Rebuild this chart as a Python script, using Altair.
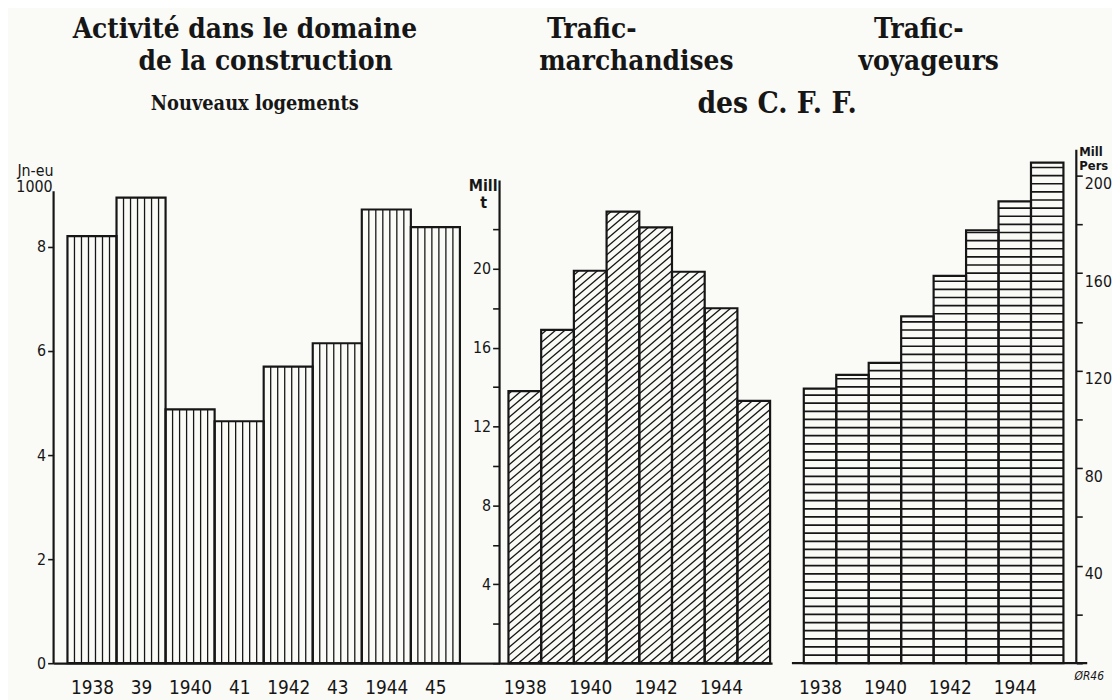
import math
import altair as alt
import pandas as pd

# ---------------- data ----------------
years = [1938, 1939, 1940, 1941, 1942, 1943, 1944, 1945]
housing = [8.21, 8.95, 4.88, 4.65, 5.70, 6.15, 8.72, 8.38]        # new dwellings, thousands
freight = [13.8, 16.9, 19.9, 22.9, 22.1, 19.85, 18.0, 13.3]        # million tonnes
passengers = [112.6, 118.3, 123.2, 142.3, 158.9, 177.6, 189.4, 205.3]  # million persons

labels1 = ["1938", "39", "1940", "41", "1942", "43", "1944", "45"]
labels23 = ["1938", "", "1940", "", "1942", "", "1944", ""]

ticks1 = [0, 2, 4, 6, 8]
ticks2 = [0, 2, 4, 6, 8, 10, 12, 14, 16, 18, 20, 22]
ticks3 = [0, 20, 40, 60, 80, 100, 120, 140, 160, 180, 200]

title1 = ["Activité dans le domaine", "de la construction"]
subtitle1 = "Nouveaux logements"
title2 = ["Trafic-", "marchandises"]
title3 = ["Trafic-", "voyageurs"]
common_title = "des C. F. F."
unit1 = ["Jn-eu", "1000"]
unit2 = ["Mill", "t"]
unit3 = ["Mill", "Pers"]
signature = "ØR46"

# axis-line tops (value where each vertical axis line ends)
axis_top1, axis_top2 = 9.07, 24.47

# ---------------- layout / style ----------------
ink = "#161616"
bg = "#fafaf7"
numfont = "DejaVu Sans Condensed, Liberation Sans Narrow, DejaVu Sans"
serif = "DejaVu Serif Condensed, DejaVu Serif"
H = 518

W1, PX1 = 450, 49.5
W2, PX2 = 275, 33.0
W3, PX3 = 307, 32.75
Y1PX, Y2PX, Y3PX = 52.5, 19.9, 2.46

x1min = 1937.5 - 14 / PX1
x1max = x1min + W1 / PX1
x2min = 1937.5 - 9 / PX2
x2max = x2min + W2 / PX2
x3min = 1937.5 - 32 / PX3
x3max = x3min + W3 / PX3
y1max, y2max, y3max = H / Y1PX, H / Y2PX, H / Y3PX


def bars_df(vals):
    return pd.DataFrame({"x0": [y - 0.5 for y in years], "x1": [y + 0.5 for y in years],
                         "b": [0] * len(years), "v": vals})


def txt(s, x, y, size, font=serif, weight="bold", align="center", style="normal"):
    return alt.Chart(pd.DataFrame({"t": [s]})).mark_text(
        align=align, baseline="middle", font=font, fontSize=size, fontWeight=weight,
        fontStyle=style, color=ink
    ).encode(text="t:N", x=alt.value(x), y=alt.value(y))


def xaxis(labels, domain=True):
    arr = "[" + ",".join("'%s'" % l for l in labels) + "]"
    return alt.Axis(values=years, labelExpr=arr + "[datum.value - 1938]", ticks=False,
                    domain=domain, domainWidth=2.2, domainColor=ink, grid=False, title=None,
                    labelFont=numfont, labelFontSize=19, labelColor=ink, labelPadding=16,
                    labelAngle=0, labelFlush=False, labelOverlap=False)


def yaxis(values, expr, orient="left", tick=6, offset=0):
    return alt.Axis(values=values, labelExpr=expr, orient=orient, domain=False, grid=False,
                    title=None, tickSize=tick, tickWidth=1.6, tickColor=ink,
                    labelFont=numfont, labelFontSize=16, labelColor=ink, labelPadding=2,
                    labelOffset=offset, labelFlush=False, labelOverlap=False)


# ---------------- panel 1 : vertical hatching ----------------
h1 = []
for yr, v in zip(years, housing):
    for k in range(1, 7):
        h1.append({"x": yr - 0.5 + k / 7, "y0": 0, "y1": v})
h1 = pd.DataFrame(h1)

xs1 = alt.Scale(domain=[x1min, x1max], nice=False, zero=False)
ys1 = alt.Scale(domain=[0, y1max], nice=False, zero=False)

p1 = alt.layer(
    alt.Chart(h1).mark_rule(color=ink, strokeWidth=1.3).encode(
        x=alt.X("x:Q", scale=xs1, axis=xaxis(labels1)),
        y=alt.Y("y0:Q", scale=ys1, axis=yaxis(ticks1, "datum.label")),
        y2="y1:Q"),
    alt.Chart(bars_df(housing)).mark_rect(fillOpacity=0, stroke=ink, strokeWidth=2.2).encode(
        x="x0:Q", x2="x1:Q", y="b:Q", y2="v:Q"),
    alt.Chart(pd.DataFrame({"x": [x1min], "y0": [0], "y1": [axis_top1]})).mark_rule(
        color=ink, strokeWidth=2.2).encode(x="x:Q", y="y0:Q", y2="y1:Q"),
    txt(title1[0], 193, -121, 28),
    txt(title1[1], 214, -89, 28),
    txt(subtitle1, 203, -46, 20),
    txt(unit1[0], 0, 21, 16, font=numfont, weight="normal", align="right"),
    txt(unit1[1], -1, 38, 16, font=numfont, weight="normal", align="right"),
).properties(width=W1, height=H)

# ---------------- panel 2 : diagonal hatching ----------------
m, d = 0.85, 8.0
h2 = []
for yr, v in zip(years, freight):
    X0 = (yr - 0.5 - x2min) * PX2
    X1 = X0 + PX2
    Hb = v * Y2PX
    kmin = math.floor((-m * X1) / d)
    kmax = math.ceil((Hb - m * X0) / d)
    for k in range(kmin, kmax + 1):
        c = k * d
        xa = max(X0, -c / m)
        xb = min(X1, (Hb - c) / m)
        if xb - xa > 0.6:
            h2.append({"x": x2min + xa / PX2, "x2": x2min + xb / PX2,
                       "y": (m * xa + c) / Y2PX, "y2": (m * xb + c) / Y2PX})
h2 = pd.DataFrame(h2)

xs2 = alt.Scale(domain=[x2min, x2max], nice=False, zero=False)
ys2 = alt.Scale(domain=[0, y2max], nice=False, zero=False)

p2 = alt.layer(
    alt.Chart(h2).mark_rule(color=ink, strokeWidth=1.3).encode(
        x=alt.X("x:Q", scale=xs2, axis=xaxis(labels23)),
        y=alt.Y("y:Q", scale=ys2,
                axis=yaxis(ticks2, "datum.value % 4 == 0 && datum.value > 0 && datum.value <= 20 ? datum.label : ''", tick=7)),
        x2="x2:Q", y2="y2:Q"),
    alt.Chart(bars_df(freight)).mark_rect(fillOpacity=0, stroke=ink, strokeWidth=2.2).encode(
        x="x0:Q", x2="x1:Q", y="b:Q", y2="v:Q"),
    alt.Chart(pd.DataFrame({"x": [x2min], "y0": [0], "y1": [axis_top2]})).mark_rule(
        color=ink, strokeWidth=2.2).encode(x="x:Q", y="y0:Q", y2="y1:Q"),
    txt(title2[0], 93, -121, 28),
    txt(title2[1], 138, -89, 28),
    txt(common_title, 280, -46, 30),
    txt(unit2[0], -2, 37, 16, font=numfont, weight="bold", align="right"),
    txt(unit2[1], -16, 54, 16, font=numfont, weight="bold", align="center"),
).properties(width=W2, height=H)

# ---------------- panel 3 : horizontal hatching ----------------
s = 8.2 / Y3PX
h3 = []
for yr, v in zip(years, passengers):
    k = 1
    while k * s < v - 1.0 / Y3PX:
        h3.append({"x0": yr - 0.5, "x1": yr + 0.5, "y": k * s})
        k += 1
h3 = pd.DataFrame(h3)

xs3 = alt.Scale(domain=[x3min, x3max], nice=False, zero=False)
ys3 = alt.Scale(domain=[0, y3max], nice=False, zero=False)

p3 = alt.layer(
    alt.Chart(h3).mark_rule(color=ink, strokeWidth=1.7).encode(
        x=alt.X("x0:Q", scale=xs3, axis=xaxis(labels23, domain=False)),
        x2="x1:Q",
        y=alt.Y("y:Q", scale=ys3,
                axis=yaxis(ticks3, "datum.value % 40 == 0 && datum.value > 0 ? datum.label : ''",
                           orient="right", tick=6, offset=8))),
    alt.Chart(bars_df(passengers)).mark_rect(fillOpacity=0, stroke=ink, strokeWidth=2.2).encode(
        x="x0:Q", x2="x1:Q", y="b:Q", y2="v:Q"),
    alt.Chart(pd.DataFrame({"x": [x3max], "y0": [0], "y1": [y3max]})).mark_rule(
        color=ink, strokeWidth=2.2).encode(x="x:Q", y="y0:Q", y2="y1:Q"),
    alt.Chart(pd.DataFrame({"x0": [x3min + 20 / PX3], "x1": [x3min + 318 / PX3], "y": [0]})).mark_rule(
        color=ink, strokeWidth=2.2).encode(x="x0:Q", x2="x1:Q", y="y:Q"),
    txt(title3[0], 148, -121, 28),
    txt(title3[1], 158, -89, 28),
    txt(unit3[0], 310, 2, 13, font=numfont, weight="bold", align="left"),
    txt(unit3[1], 310, 16, 13, font=numfont, weight="bold", align="left"),
    txt(signature, 320, 531, 12, font=numfont, weight="normal", style="italic"),
).properties(width=W3, height=H)

chart = alt.hconcat(p1, p2, p3, spacing=0, bounds="flush").properties(
    padding={"left": 8, "top": 5, "right": 0, "bottom": 0},
    background=bg,
).configure_view(stroke=None)

chart.save("out.html", embed_options={"renderer": "svg", "actions": False})
